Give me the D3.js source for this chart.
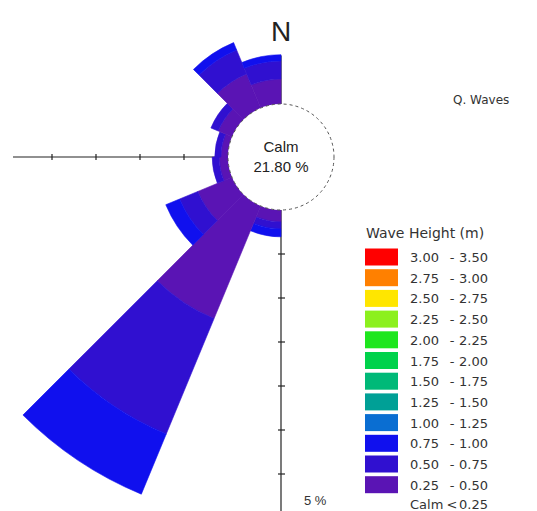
<!DOCTYPE html>
<html>
<head>
<meta charset="utf-8">
<script src="https://cdn.jsdelivr.net/npm/d3@7"></script>
<style>
  html, body { margin: 0; padding: 0; background: #fff; }
  svg { display: block; font-family: "Liberation Sans", Arial, sans-serif; }
</style>
</head>
<body>
<svg id="rose" width="537" height="511"></svg>
<script>
// Direction sectors (start bearing, degrees clockwise from north), 22.5 deg wide
const sectorStart = [180, 202.5, 225, 247.5, 270, 292.5, 315, 337.5];
const sectorWidth = 22.5;

// Frequency (%) per sector for each wave-height class, stacked outward
const freqLow  = [0.27, 2.77, 0.84, 0.20, 0.16, 0.34, 0.84, 0.57]; // 0.25 - 0.50 m
const freqMid  = [0.16, 2.84, 0.45, 0.16, 0.14, 0.18, 0.59, 0.41]; // 0.50 - 0.75 m
const freqHigh = [0.18, 1.48, 0.34, 0.00, 0.00, 0.00, 0.18, 0.14]; // 0.75 - 1.00 m

const calmLabel = "Calm";
const calmValue = "21.80 %";

// Legend classes, top to bottom
const legendLow  = ["3.00","2.75","2.50","2.25","2.00","1.75","1.50","1.25","1.00","0.75","0.50","0.25"];
const legendHigh = ["3.50","3.00","2.75","2.50","2.25","2.00","1.75","1.50","1.25","1.00","0.75","0.50"];
const legendColors = ["#ff0000","#ff8000","#ffe600","#8cf01e","#1ee61e","#00d24b",
                      "#00b978","#00a096","#0a6ed2","#1010ee","#3010d0","#5a14b4"];
const calmRow = ["Calm", "<", "0.25"];

// Radial tick values (%)
const tickValues = [1, 2, 3, 4, 5, 6, 7];
const axisLabel = "5 %";
const stationLabel = "Q. Waves";
const legendTitle = "Wave Height (m)";

const svg = d3.select("#rose");
const cx = 281, cy = 157, r0 = 53, pxPerPct = 44;

const r = d3.scaleLinear().domain([0, 1]).range([r0, r0 + pxPerPct]);
const toRad = d => d * Math.PI / 180;

const series = [freqLow, freqMid, freqHigh];
const binColors = [legendColors[11], legendColors[10], legendColors[9]];

const g = svg.append("g").attr("transform", `translate(${cx},${cy})`);

// Axes (west and south arms, plus the north arm beneath the petals)
const axisG = g.append("g").attr("stroke", "#222").attr("stroke-width", 1.2);
axisG.append("line").attr("x1", 0).attr("y1", 0).attr("x2", -(cx - 13)).attr("y2", 0);
axisG.append("line").attr("x1", 0).attr("y1", 0).attr("x2", 0).attr("y2", 380);
axisG.append("line").attr("x1", 0).attr("y1", 0).attr("x2", 0).attr("y2", -r(1.1));

tickValues.forEach(v => {
  const rr = r(v);
  if (rr < cx - 13) {
    axisG.append("line").attr("x1", -rr).attr("x2", -rr).attr("y1", -3).attr("y2", 3);
  }
  axisG.append("line").attr("x1", -3).attr("x2", 4).attr("y1", rr).attr("y2", rr);
});

// Stacked petals
const arc = d3.arc();
sectorStart.forEach((s, i) => {
  let cum = 0;
  series.forEach((vals, k) => {
    const v = vals[i];
    if (v <= 0) return;
    g.append("path")
      .attr("d", arc({
        innerRadius: r(cum),
        outerRadius: r(cum + v),
        startAngle: toRad(s),
        endAngle: toRad(s + sectorWidth)
      }))
      .attr("fill", binColors[k])
      .attr("stroke", binColors[k])
      .attr("stroke-width", 0.6);
    cum += v;
  });
});

// Calm circle
g.append("circle")
  .attr("r", r0)
  .attr("fill", "#fff")
  .attr("stroke", "#555")
  .attr("stroke-width", 1)
  .attr("stroke-dasharray", "3,3");

g.append("text").attr("x", 0).attr("y", -5).attr("text-anchor", "middle")
  .attr("font-size", 15).attr("fill", "#222").text(calmLabel);
g.append("text").attr("x", 0).attr("y", 15).attr("text-anchor", "middle")
  .attr("font-size", 15).attr("fill", "#222").text(calmValue);

// North label
svg.append("text").attr("x", cx).attr("y", 41).attr("text-anchor", "middle")
  .attr("font-size", 28).attr("fill", "#222").text("N");

// Scale label
svg.append("text").attr("x", cx + 23).attr("y", 505)
  .attr("font-size", 13).attr("fill", "#333").text(axisLabel);

// Station label
svg.append("text").attr("x", 453).attr("y", 104)
  .style("font-family", "'DejaVu Sans', sans-serif")
  .attr("font-size", 12).attr("fill", "#333").text(stationLabel);

// Legend
const lg = svg.append("g").attr("transform", "translate(365,0)")
  .style("font-family", "'DejaVu Sans', sans-serif");
lg.append("text").attr("x", 1).attr("y", 238)
  .attr("font-size", 14).attr("fill", "#333").text(legendTitle);

const rowY = i => 257 + i * 20.7;
legendColors.forEach((c, i) => {
  lg.append("rect").attr("x", 0).attr("y", rowY(i) - 8.5)
    .attr("width", 33).attr("height", 17).attr("fill", c);
  lg.append("text").attr("x", 45).attr("y", rowY(i) + 5)
    .attr("font-size", 13).attr("fill", "#333").text(legendLow[i]);
  lg.append("text").attr("x", 87).attr("y", rowY(i) + 5).attr("text-anchor", "middle")
    .attr("font-size", 13).attr("fill", "#333").text("-");
  lg.append("text").attr("x", 94).attr("y", rowY(i) + 5)
    .attr("font-size", 13).attr("fill", "#333").text(legendHigh[i]);
});
const lastY = rowY(legendColors.length) - 1;
lg.append("text").attr("x", 45).attr("y", lastY + 5)
  .attr("font-size", 13).attr("fill", "#333").text(calmRow[0]);
lg.append("text").attr("x", 87).attr("y", lastY + 5).attr("text-anchor", "middle")
  .attr("font-size", 13).attr("fill", "#333").text(calmRow[1]);
lg.append("text").attr("x", 94).attr("y", lastY + 5)
  .attr("font-size", 13).attr("fill", "#333").text(calmRow[2]);
</script>
</body>
</html>
